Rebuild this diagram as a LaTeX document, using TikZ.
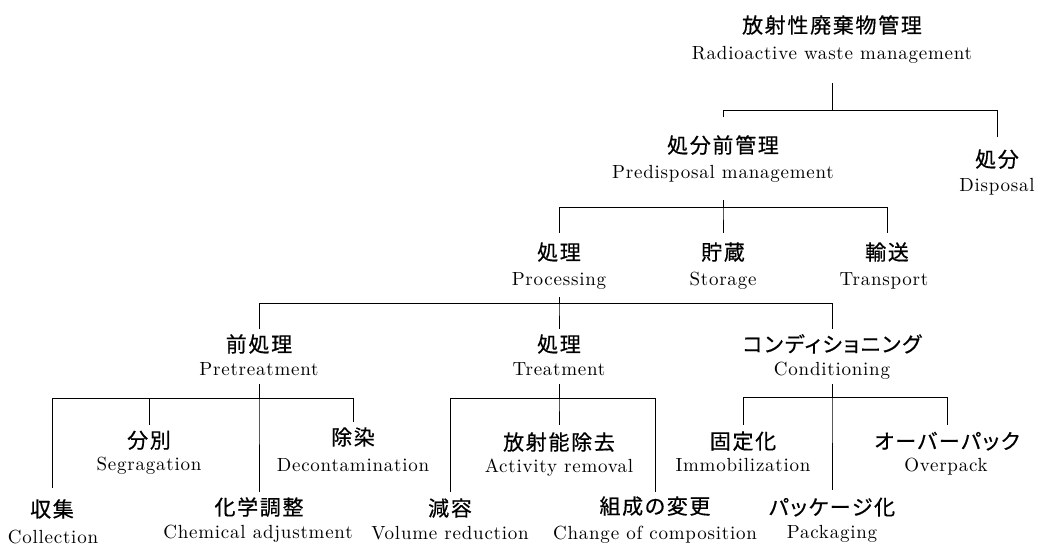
\documentclass[tikz,border=0pt]{standalone}
\usepackage{fontspec}
\newfontfamily\jpfont[RawFeature=+palt,LetterSpace=8,FakeBold=0.5]{Noto Sans CJK JP}
\newfontfamily\enfont[LetterSpace=4]{lmroman10-regular.otf}
\usetikzlibrary{calc}
\newcommand\branch[5]{\draw[link] ($(#1E.south)+(0,#2)$) -- (#1E.south |- 0,#3) -| ($(#4J.north)+(0,-#5)$);}
\tikzset{
  jp/.style={font=\jpfont\fontsize{21}{24}\selectfont, inner sep=0pt, text height=16pt, text depth=0pt, anchor=center},
  en/.style={font=\enfont\fontsize{19}{21}\selectfont, inner sep=0pt, text height=12pt, text depth=4pt, anchor=center},
  link/.style={line width=1pt, black}
}
\begin{document}
\begin{tikzpicture}[x=1pt,y=-1pt]
\useasboundingbox (0,0) rectangle (1037,546);
% level 0
\node[jp] (rootJ) at (832,25) {放射性廃棄物管理};
\node[en] (rootE) at (832,55) {Radioactive waste management};
% level 1
\node[jp] (predJ) at (723,145) {処分前管理};
\node[en] (predE) at (723,174) {Predisposal management};
\node[jp] (dispJ) at (997,159) {処分};
\node[en] (dispE) at (997,187) {Disposal};
% level 2
\node[jp] (procJ) at (559,252) {処理};
\node[en] (procE) at (559,281) {Processing};
\node[jp] (storJ) at (723,252) {貯蔵};
\node[en] (storE) at (723,281) {Storage};
\node[jp] (tranJ) at (887,252) {輸送};
\node[en] (tranE) at (884,281) {Transport};
% level 3
\node[jp] (pretJ) at (259,344) {前処理};
\node[en] (pretE) at (259,371) {Pretreatment};
\node[jp] (treaJ) at (559,344) {処理};
\node[en] (treaE) at (559,371) {Treatment};
\node[jp] (condJ) at (832,344) {コンディショニング};
\node[en] (condE) at (832,371) {Conditioning};
% level 4
\node[jp] (collJ) at (52,509) {収集};
\node[en] (collE) at (53,539) {Collection};
\node[jp] (segrJ) at (149,440) {分別};
\node[en] (segrE) at (149,466) {Segragation};
\node[jp] (chemJ) at (259,507) {化学調整};
\node[en] (chemE) at (258,534) {Chemical adjustment};
\node[jp] (decoJ) at (353,437) {除染};
\node[en] (decoE) at (353,467) {Decontamination};
\node[jp] (volrJ) at (450,508) {減容};
\node[en] (volrE) at (450,535) {Volume reduction};
\node[jp] (actrJ) at (559,442) {放射能除去};
\node[en] (actrE) at (559,468) {Activity removal};
\node[jp] (compJ) at (655,506) {組成の変更};
\node[en] (compE) at (655,535) {Change of composition};
\node[jp] (immoJ) at (743,441) {固定化};
\node[en] (immoE) at (743,467) {Immobilization};
\node[jp] (packJ) at (832,507) {パッケージ化};
\node[en] (packE) at (832,534) {Packaging};
\node[jp] (overJ) at (947,441) {オーバーパック};
\node[en] (overE) at (946,467) {Overpack};
% connectors
\branch{root}{20}{110}{pred}{20}
\branch{root}{20}{110}{disp}{14}
\branch{pred}{18}{207}{proc}{11}
\branch{pred}{18}{207}{stor}{11}
\branch{pred}{18}{207}{tran}{11}
\branch{proc}{8}{303}{pret}{7}
\branch{proc}{8}{303}{trea}{7}
\branch{proc}{8}{303}{cond}{7}
\branch{pret}{5}{398}{coll}{13}
\branch{pret}{5}{398}{segr}{7}
\branch{pret}{5}{398}{chem}{7}
\branch{pret}{5}{398}{deco}{7}
\branch{trea}{5}{398}{volr}{8}
\branch{trea}{5}{398}{actr}{9}
\branch{trea}{5}{398}{comp}{6}
\branch{cond}{5}{397}{immo}{8}
\branch{cond}{5}{397}{pack}{9}
\branch{cond}{5}{397}{over}{8}
\end{tikzpicture}
\end{document}
